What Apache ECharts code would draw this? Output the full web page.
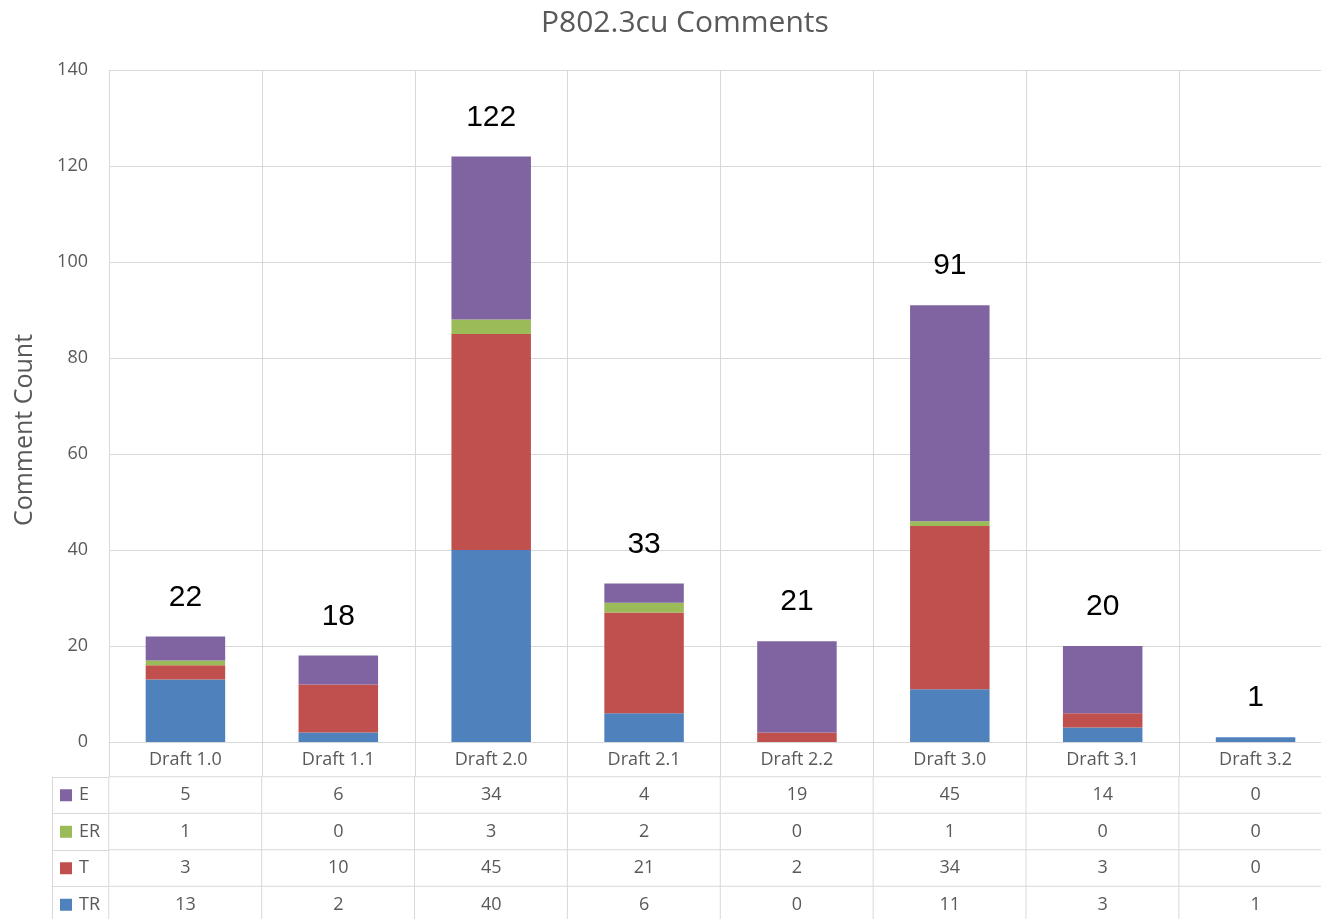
<!DOCTYPE html>
<html>
<head>
<meta charset="utf-8">
<script src="https://cdn.jsdelivr.net/npm/echarts@6/dist/echarts.min.js"></script>
<style>
html,body{margin:0;padding:0;background:#fff;}
#chart{width:1321px;height:919px;}
</style>
</head>
<body>
<div id="chart"></div>
<script>
const categories = ['Draft 1.0','Draft 1.1','Draft 2.0','Draft 2.1','Draft 2.2','Draft 3.0','Draft 3.1','Draft 3.2'];
const seriesNames = ['TR','T','ER','E'];
const TR = [13, 2, 40, 6, 0, 11, 3, 1];
const T  = [3, 10, 45, 21, 2, 34, 3, 0];
const ER = [1, 0, 3, 2, 0, 1, 0, 0];
const E  = [5, 6, 34, 4, 19, 45, 14, 0];
const yTicks = [0, 20, 40, 60, 80, 100, 120, 140];
const tableRows = ['E','ER','T','TR'];

const colors = {TR:'#4F81BD', T:'#C0504D', ER:'#9BBB59', E:'#8064A2'};
const valuesByName = {TR:TR, T:T, ER:ER, E:E};
const totals = categories.map((c,i)=>TR[i]+T[i]+ER[i]+E[i]);

const gray = '#595959';
const lineC = '#d9d9d9';
const font = '"Open Sans", "DejaVu Sans", sans-serif';

const heatData = [];
tableRows.forEach((r, ri) => {
  valuesByName[r].forEach((v, ci) => heatData.push([ci, ri, v]));
});

const rich = {};
tableRows.forEach(r => { rich['sq' + r] = {width: 12, height: 12, backgroundColor: colors[r]}; });
rich.txt = {fontSize: 18, color: gray, fontFamily: font, padding: [0,0,0,7]};

const chart = echarts.init(document.getElementById('chart'));
chart.setOption({
  animation: false,
  backgroundColor: '#fff',
  title: {
    text: 'P802.3cu Comments',
    left: 536, top: 3,
    textStyle: {fontSize: 30, fontWeight: 'normal', color: gray, fontFamily: font}
  },
  grid: [
    {left: 109, width: 1223, top: 70, height: 672, containLabel: false, outerBoundsMode: 'none'},
    {left: 109, width: 1223, top: 777, height: 146, containLabel: false, outerBoundsMode: 'none'}
  ],
  xAxis: [
    {
      type: 'category', gridIndex: 0, data: categories,
      axisLine: {show: true, lineStyle: {color: lineC}},
      axisTick: {show: true, length: 35, lineStyle: {color: lineC}},
      axisLabel: {color: gray, fontSize: 18, fontFamily: font, margin: 9},
      splitLine: {show: true, lineStyle: {color: lineC}}
    },
    {
      type: 'category', gridIndex: 1, data: categories,
      axisLine: {show: false}, axisTick: {show: false}, axisLabel: {show: false},
      splitLine: {show: false}
    }
  ],
  yAxis: [
    {
      type: 'value', gridIndex: 0, min: 0, max: 140, interval: 20,
      name: 'Comment Count', nameLocation: 'middle', nameGap: 72,
      nameTextStyle: {fontSize: 25, color: gray, fontFamily: font, padding: [0, 48, 0, 0]},
      axisLine: {show: true, lineStyle: {color: lineC}},
      axisTick: {show: false},
      axisLabel: {color: gray, fontSize: 18, fontFamily: font, margin: 21},
      splitLine: {show: true, lineStyle: {color: lineC}}
    },
    {
      type: 'category', gridIndex: 1, data: tableRows, inverse: true,
      axisLine: {show: true, lineStyle: {color: lineC}},
      axisTick: {show: true, length: 57, lineStyle: {color: lineC}},
      axisLabel: {
        align: 'left', margin: 49,
        formatter: v => '{sq' + v + '|}{txt|' + v + '}',
        rich: rich
      },
      splitLine: {show: false}
    },
    {
      type: 'category', gridIndex: 1, data: tableRows, inverse: true, position: 'left', offset: 57,
      axisLine: {show: true, lineStyle: {color: lineC}},
      axisTick: {show: false}, axisLabel: {show: false}, splitLine: {show: false}
    }
  ],
  series: [
    ...seriesNames.map(n => ({
      name: n, type: 'bar', stack: 'total', xAxisIndex: 0, yAxisIndex: 0,
      data: valuesByName[n], barWidth: '52%',
      itemStyle: {color: colors[n]}, silent: true
    })),
    {
      name: 'Total', type: 'bar', xAxisIndex: 0, yAxisIndex: 0,
      data: totals, barWidth: '52%', barGap: '-100%', silent: true, z: 1,
      itemStyle: {color: 'rgba(0,0,0,0)'},
      label: {show: true, position: 'top', distance: 24, color: '#000', fontSize: 30,
              fontFamily: '"Liberation Sans", Arial, sans-serif'}
    },
    {
      type: 'heatmap', xAxisIndex: 1, yAxisIndex: 1, data: heatData, silent: true,
      itemStyle: {color: '#fff', borderColor: lineC, borderWidth: 1},
      label: {show: true, formatter: p => String(p.value[2]), color: gray, fontSize: 18, fontFamily: font}
    }
  ]
});
</script>
</body>
</html>
